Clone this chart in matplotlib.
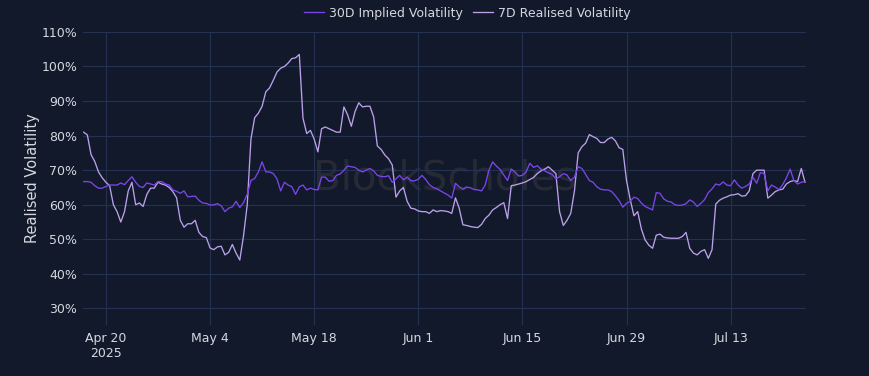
import numpy as np
import pandas as pd
import matplotlib
matplotlib.use("Agg")
import matplotlib.pyplot as plt

# 12-hourly samples, from Apr 17 2025
start = "2025-04-17 00:00"
step = "12h"

# 7D realised volatility (%)
realised = [
    81.0, 80.2, 74.5, 72.5, 69.5, 67.8, 66.5, 65.5, 60.0, 58.0,
    55.0, 58.0, 64.0, 66.5, 60.0, 60.5, 59.5, 63.0, 64.8, 64.8,
    66.5, 66.0, 65.7, 65.0, 63.8, 62.0, 55.5, 53.5, 54.5, 54.5,
    55.5, 52.0, 50.8, 50.5, 47.5, 47.0, 47.8, 48.0, 45.5, 46.2,
    48.5, 46.0, 44.0, 51.0, 60.0, 79.0, 85.2, 86.5, 88.5, 92.7,
    93.8, 96.0, 98.4, 99.5, 100.0, 101.0, 102.3, 102.5, 103.5, 85.0,
    80.6, 81.5, 79.0, 75.3, 82.0, 82.5, 82.0, 81.5, 81.0, 81.0,
    88.3, 86.0, 82.7, 87.0, 89.5, 88.3, 88.5, 88.5, 85.4, 77.0,
    76.0, 74.4, 73.3, 71.5, 62.2, 64.0, 65.0, 61.0, 59.0, 58.8,
    58.2, 58.0, 58.0, 57.5, 58.5, 58.0, 58.3, 58.2, 58.0, 57.5,
    62.0, 59.0, 54.2, 54.0, 53.7, 53.5, 53.4, 54.3, 56.0, 57.0,
    58.5, 59.2, 60.0, 60.6, 56.0, 65.5, 65.7, 66.0, 66.3, 66.7,
    67.3, 67.9, 69.0, 69.8, 70.3, 71.0, 70.0, 69.0, 58.0, 54.0,
    55.5, 57.5, 64.0, 75.0, 76.8, 77.8, 80.3, 79.7, 79.2, 78.0,
    78.0, 79.0, 79.5, 78.5, 76.5, 76.0, 67.0, 61.5, 56.8, 58.0,
    53.0, 49.8, 48.3, 47.4, 51.2, 51.5, 50.6, 50.4, 50.3, 50.3,
    50.3, 50.8, 52.0, 47.4, 46.0, 45.5, 46.5, 47.0, 44.5, 47.0,
    60.2, 61.3, 61.9, 62.3, 62.8, 62.9, 63.2, 62.5, 62.6, 64.0,
    69.0, 70.0, 70.0, 70.0, 61.9, 62.8, 63.8, 64.3, 64.5, 66.0,
    66.7, 67.0, 66.7, 70.5, 66.5,
]

# 30D implied volatility (%)
implied = [
    66.7, 66.7, 66.5, 65.5, 64.8, 64.8, 65.3, 65.7, 65.7, 65.7,
    66.3, 65.8, 67.0, 68.1, 66.5, 65.3, 65.0, 66.3, 66.0, 65.7,
    66.7, 66.7, 66.0, 65.7, 64.3, 63.9, 63.3, 64.0, 62.3, 62.4,
    62.5, 61.3, 60.5, 60.4, 59.9, 60.0, 60.3, 59.7, 58.0, 59.0,
    59.4, 61.0, 59.2, 60.6, 63.0, 67.0, 67.6, 69.5, 72.4, 69.5,
    69.5, 69.0, 67.5, 64.0, 66.5, 65.7, 65.2, 63.0, 65.2, 65.7,
    64.3, 64.8, 64.4, 64.3, 68.0, 68.0, 66.8, 67.0, 68.5, 68.9,
    70.0, 71.2, 71.0, 70.8, 70.0, 69.5, 70.0, 70.5, 69.8, 68.5,
    68.2, 68.1, 68.4, 66.5, 67.5, 68.5, 67.2, 68.0, 67.0, 66.9,
    67.4, 68.5, 67.3, 65.8, 65.0, 64.6, 64.0, 63.4, 62.8, 61.9,
    66.2, 65.2, 64.5, 65.1, 64.9, 64.4, 64.3, 64.0, 65.7, 70.0,
    72.4, 71.2, 70.2, 68.6, 67.0, 70.3, 69.5, 68.3, 68.5, 69.5,
    72.0, 70.8, 71.3, 70.3, 69.8, 69.2, 68.8, 67.5, 68.1, 69.0,
    68.6, 67.0, 68.0, 71.0, 70.5, 68.8, 67.0, 66.5, 65.2, 64.5,
    64.3, 64.3, 63.8, 62.6, 61.2, 59.3, 60.4, 61.0, 62.2, 61.8,
    60.5, 59.5, 59.0, 58.5, 63.5, 63.3, 61.7, 61.0, 60.8, 60.0,
    59.8, 59.9, 60.3, 61.4, 60.8, 59.5, 60.4, 61.5, 63.5, 64.6,
    66.0, 65.7, 66.6, 65.7, 65.5, 67.2, 65.7, 64.8, 65.3, 66.0,
    68.0, 66.2, 69.3, 69.0, 64.0, 65.7, 65.1, 64.4, 65.8, 67.8,
    70.3, 67.0, 66.0, 66.5, 66.7,
]

tick_dates = ["2025-04-20", "2025-05-04", "2025-05-18", "2025-06-01",
              "2025-06-15", "2025-06-29", "2025-07-13"]
tick_labels = ["Apr 20\n2025", "May 4", "May 18", "Jun 1",
               "Jun 15", "Jun 29", "Jul 13"]

dates = pd.date_range(start, periods=len(realised), freq=step)

bg = "#12192b"
grid_c = "#243150"
text_c = "#d5d8df"

fig = plt.figure(figsize=(8.7, 3.76), dpi=100, facecolor=bg)
ax = fig.add_axes([0.0954, 0.1356, 0.8306, 0.7804], facecolor=bg)

# watermark
ax.text(0.5, 0.5, "BlockScholes", transform=ax.transAxes, ha="center",
        va="center", fontsize=29, color="#262a35", zorder=0)

ax.plot(dates, implied, color="#7b45ea", lw=0.95, label="30D Implied Volatility", zorder=3)
ax.plot(dates, realised, color="#bba0ea", lw=0.95, label="7D Realised Volatility", zorder=2)

ax.set_xlim(pd.Timestamp("2025-04-16 22:00"), pd.Timestamp("2025-07-23 02:00"))
ax.set_ylim(25.2, 110.1)
ax.set_yticks(np.arange(30, 111, 10))
ax.set_yticklabels([f"{v}%" for v in range(30, 111, 10)])
ax.set_xticks(pd.to_datetime(tick_dates))
ax.set_xticklabels(tick_labels)

ax.grid(True, color=grid_c, lw=0.8)
ax.set_axisbelow(True)
for s in ax.spines.values():
    s.set_visible(False)
ax.tick_params(length=0, colors=text_c, labelsize=9)
ax.tick_params(axis="y", pad=4)
ax.tick_params(axis="x", pad=5)

ax.set_ylabel("Realised Volatility", color=text_c, fontsize=10.5, labelpad=1)

fig.legend(loc="center", bbox_to_anchor=(0.537, 0.965), ncol=2, frameon=False,
           handlelength=1.6, handletextpad=0.4, columnspacing=0.8,
           fontsize=9, labelcolor=text_c)

fig.savefig("out.png", dpi=100, facecolor=bg)
